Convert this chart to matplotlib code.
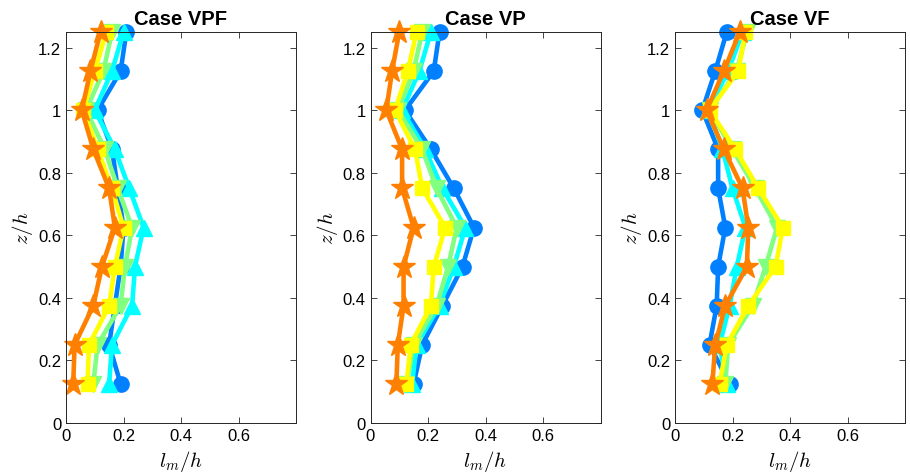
import matplotlib
matplotlib.use("Agg")
import matplotlib.pyplot as plt
import numpy as np

plt.rcParams["font.family"] = ["Liberation Sans", "DejaVu Sans"]
plt.rcParams["mathtext.fontset"] = "cm"

z_levels = [0.125, 0.25, 0.375, 0.5, 0.625, 0.75, 0.875, 1.0, 1.125, 1.25]
case_titles = ["Case VPF", "Case VP", "Case VF"]

# l_m/h profiles, one list per series, bottom to top
vpf_circle = [0.19, 0.15, 0.17, 0.19, 0.20, 0.18, 0.16, 0.11, 0.19, 0.21]
vpf_up = [0.15, 0.16, 0.23, 0.24, 0.27, 0.22, 0.17, 0.10, 0.16, 0.20]
vpf_down = [0.095, 0.11, 0.19, 0.205, 0.23, 0.18, 0.135, 0.07, 0.13, 0.16]
vpf_square = [0.075, 0.08, 0.15, 0.17, 0.20, 0.16, 0.11, 0.06, 0.10, 0.14]
vpf_star = [0.025, 0.03, 0.095, 0.125, 0.17, 0.15, 0.095, 0.055, 0.085, 0.12]

vp_circle = [0.15, 0.18, 0.25, 0.32, 0.36, 0.29, 0.21, 0.12, 0.22, 0.24]
vp_up = [0.145, 0.16, 0.24, 0.29, 0.33, 0.25, 0.19, 0.11, 0.17, 0.21]
vp_down = [0.125, 0.15, 0.23, 0.27, 0.30, 0.23, 0.18, 0.095, 0.15, 0.18]
vp_square = [0.125, 0.14, 0.21, 0.22, 0.26, 0.18, 0.155, 0.085, 0.13, 0.16]
vp_star = [0.09, 0.095, 0.115, 0.115, 0.15, 0.11, 0.11, 0.055, 0.075, 0.10]

vf_circle = [0.19, 0.12, 0.145, 0.15, 0.175, 0.15, 0.15, 0.095, 0.14, 0.18]
vf_up = [0.18, 0.155, 0.19, 0.215, 0.245, 0.20, 0.165, 0.115, 0.185, 0.235]
vf_down = [0.175, 0.185, 0.27, 0.315, 0.355, 0.28, 0.20, 0.12, 0.215, 0.25]
vf_square = [0.155, 0.18, 0.255, 0.35, 0.375, 0.29, 0.21, 0.12, 0.22, 0.245]
vf_star = [0.13, 0.14, 0.175, 0.25, 0.255, 0.235, 0.17, 0.11, 0.17, 0.225]

cases = [
    [vpf_circle, vpf_up, vpf_down, vpf_square, vpf_star],
    [vp_circle, vp_up, vp_down, vp_square, vp_star],
    [vf_circle, vf_up, vf_down, vf_square, vf_star],
]

colors = ["#0080ff", "#00ffff", "#80ff80", "#ffff00", "#ff8000"]
markers = ["o", "^", "v", "s", "*"]
msizes = [11, 11, 11, 10.5, 17]

fig = plt.figure(figsize=(9.1, 4.77), dpi=100)
lefts = [66 / 910, 370.5 / 910, 675 / 910]

for i, (series, title) in enumerate(zip(cases, case_titles)):
    ax = fig.add_axes([lefts[i], 53 / 477, 230 / 910, 391 / 477])
    for vals, c, m, ms in zip(series, colors, markers, msizes):
        ax.plot(vals, z_levels, color=c, marker=m, markersize=ms, lw=3.3,
                markeredgecolor=c, clip_on=False)
    ax.set_xlim(0, 0.8)
    ax.set_ylim(0, 1.25)
    ax.set_xticks([0, 0.2, 0.4, 0.6])
    ax.set_xticklabels(["0", "0.2", "0.4", "0.6"])
    ax.set_yticks([0, 0.2, 0.4, 0.6, 0.8, 1.0, 1.2])
    ax.set_yticklabels(["0", "0.2", "0.4", "0.6", "0.8", "1", "1.2"])
    ax.tick_params(direction="in", top=True, right=True, labelsize=12,
                   length=4, width=0.6, colors="0.15", labelcolor="black")
    for s in ax.spines.values():
        s.set_linewidth(0.7)
        s.set_color("0.15")
    ax.set_xlabel("$l_m/h$", fontsize=15, labelpad=4)
    ax.set_ylabel("$z/h$", fontsize=15, labelpad=2)
    ax.set_title(title, fontsize=14.5, fontweight="bold", pad=6)

fig.savefig("out.png", dpi=100)
